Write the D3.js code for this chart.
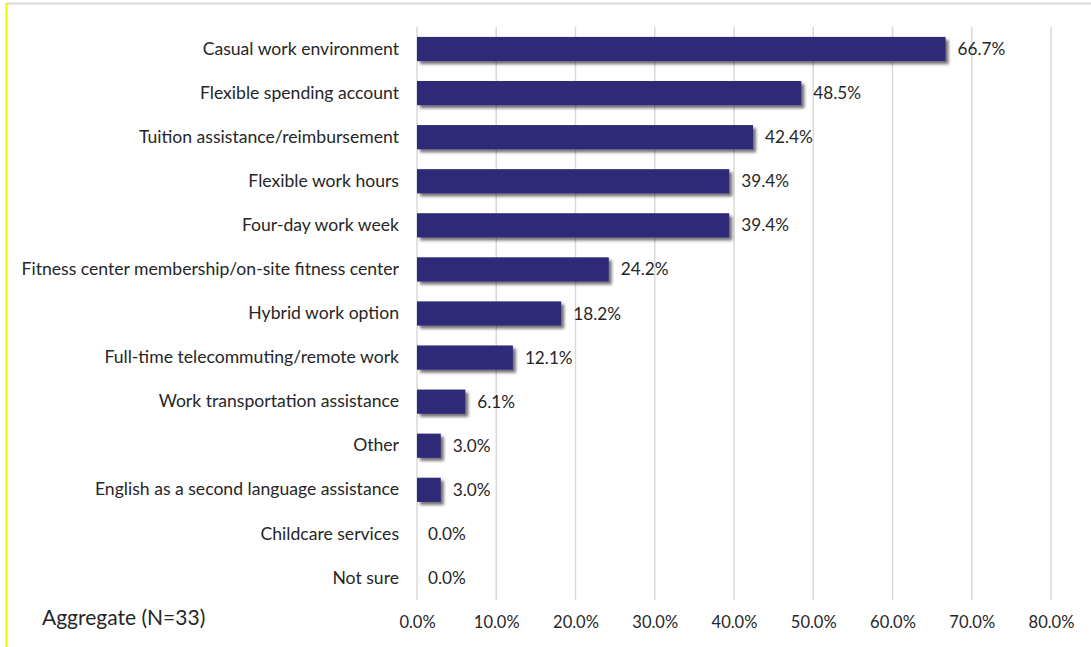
<!DOCTYPE html>
<html>
<head>
<meta charset="utf-8">
<script src="https://cdn.jsdelivr.net/npm/d3@7"></script>
<style>
  html, body { margin: 0; padding: 0; background: #fff; }
  svg { display: block; }
  text { font-family: Lato, "Open Sans", sans-serif; fill: #262626; }
</style>
</head>
<body>
<svg id="chart" width="1091" height="647"></svg>
<script>
// Share of respondents offering each benefit (percent)
const categories = [
  "Casual work environment",
  "Flexible spending account",
  "Tuition assistance/reimbursement",
  "Flexible work hours",
  "Four-day work week",
  "Fitness center membership/on-site fitness center",
  "Hybrid work option",
  "Full-time telecommuting/remote work",
  "Work transportation assistance",
  "Other",
  "English as a second language assistance",
  "Childcare services",
  "Not sure"
];
const values = [66.7, 48.5, 42.4, 39.4, 39.4, 24.2, 18.2, 12.1, 6.1, 3.0, 3.0, 0.0, 0.0];
const ticks = [0, 10, 20, 30, 40, 50, 60, 70, 80];
const footnote = "Aggregate (N=33)";

const svg = d3.select("#chart");
const W = 1091, H = 647;

// frame: grey top rule, yellow left rule
svg.append("line").attr("x1", 7).attr("x2", W).attr("y1", 3.5).attr("y2", 3.5)
  .attr("stroke", "#d9d9d9").attr("stroke-width", 2);
svg.append("line").attr("x1", 6.5).attr("x2", 6.5).attr("y1", 3).attr("y2", H)
  .attr("stroke", "#f5f000").attr("stroke-width", 2);

const plot = { left: 417, right: 1051, top: 27, bottom: 600 };

const x = d3.scaleLinear().domain([0, 80]).range([plot.left, plot.right]);
const y = d3.scaleBand().domain(categories).range([plot.top, plot.bottom]).paddingInner(0.45).paddingOuter(0.225);

const defs = svg.append("defs");
const f = defs.append("filter").attr("id", "shadow")
  .attr("x", "-10%").attr("y", "-30%").attr("width", "130%").attr("height", "190%");
f.append("feGaussianBlur").attr("in", "SourceAlpha").attr("stdDeviation", 1.8).attr("result", "b");
f.append("feOffset").attr("in", "b").attr("dx", 3).attr("dy", 3).attr("result", "o");
f.append("feComponentTransfer").attr("in", "o").attr("result", "s")
  .append("feFuncA").attr("type", "linear").attr("slope", 0.55);
const m = f.append("feMerge");
m.append("feMergeNode").attr("in", "s");
m.append("feMergeNode").attr("in", "SourceGraphic");

// vertical gridlines
svg.append("g").selectAll("line").data(ticks).join("line")
  .attr("x1", d => x(d)).attr("x2", d => x(d))
  .attr("y1", plot.top).attr("y2", plot.bottom)
  .attr("stroke", "#d9d9d9").attr("stroke-width", 1.5);

// x axis labels
const xAxis = d3.axisBottom(x).tickValues(ticks).tickSize(0).tickPadding(0)
  .tickFormat(d => d.toFixed(1) + "%");
const gx = svg.append("g").attr("transform", `translate(0,${plot.bottom + 16})`).call(xAxis);
gx.select(".domain").remove();
gx.selectAll("text").attr("font-size", 16.5).attr("font-family", "Lato, sans-serif").attr("fill", "#404040");

// y axis category labels
const yAxis = d3.axisLeft(y).tickSize(0).tickPadding(18);
const gy = svg.append("g").attr("transform", `translate(${plot.left},0)`).call(yAxis);
gy.select(".domain").remove();
gy.selectAll("text").attr("font-size", 17.6).attr("font-family", "Lato, sans-serif").attr("fill", "#262626");

const rows = categories.map((c, i) => ({ c, v: values[i] }));

// bars
svg.append("g").attr("filter", "url(#shadow)").selectAll("rect").data(rows.filter(d => d.v > 0)).join("rect")
  .attr("x", x(0)).attr("y", d => y(d.c))
  .attr("width", d => x(d.v) - x(0)).attr("height", y.bandwidth())
  .attr("fill", "#2f2a77");

// value labels
svg.append("g").selectAll("text").data(rows).join("text")
  .attr("x", d => x(d.v) + (d.v > 0 ? 12 : 11))
  .attr("y", d => y(d.c) + y.bandwidth() / 2)
  .attr("dy", "0.35em")
  .attr("font-size", 17.2)
  .attr("fill", "#333333")
  .text(d => d.v.toFixed(1) + "%");

svg.append("text").attr("x", 42).attr("y", 625)
  .attr("font-size", 21).attr("fill", "#262626").text(footnote);
</script>
</body>
</html>
